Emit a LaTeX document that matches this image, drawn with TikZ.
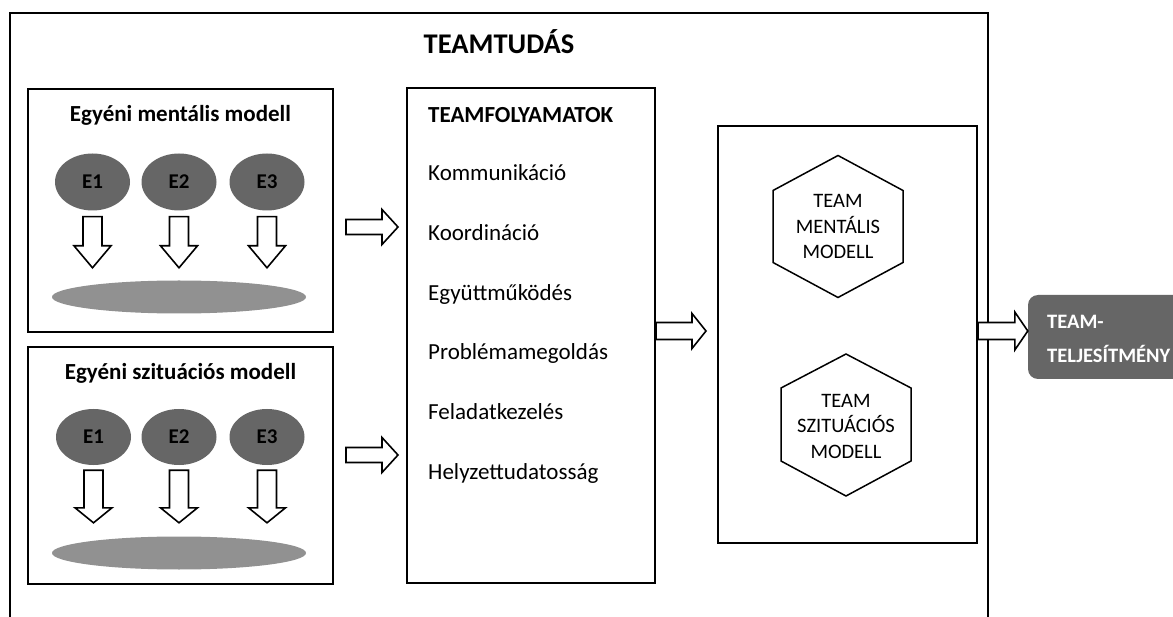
\documentclass[tikz,border=0pt]{standalone}
\usepackage{fontspec}
\setmainfont{Carlito}
\usetikzlibrary{calc,shapes.geometric}
\definecolor{egray}{HTML}{666666}
\definecolor{fgray}{HTML}{919191}
\definecolor{tgray}{HTML}{666666}
\newcommand\hollowH[5]{%
  \draw[arw] let \p1=(#1), \p2=(#2) in
    (\x1,\y1+#3pt) -- (\x2-#5pt,\y1+#3pt) -- (\x2-#5pt,\y1+#4pt) -- (\x2,\y1)
    -- (\x2-#5pt,\y1-#4pt) -- (\x2-#5pt,\y1-#3pt) -- (\x1,\y1-#3pt) -- cycle;}
\newcommand\hollowV[5]{%
  \draw[arw] let \p1=(#1), \p2=(#2) in
    (\x1-#3pt,\y1) -- (\x1+#3pt,\y1) -- (\x1+#3pt,\y2+#5pt) -- (\x1+#4pt,\y2+#5pt)
    -- (\x1,\y2) -- (\x1-#4pt,\y2+#5pt) -- (\x1-#3pt,\y2+#5pt) -- cycle;}
\begin{document}
\begin{tikzpicture}[x=1pt,y=-1pt,
  frame/.style={draw=black, line width=2pt},
  panel/.style={draw=black, line width=2pt, inner sep=0pt},
  ell/.style={ellipse, fill=egray, inner sep=0pt, minimum width=75pt, minimum height=57pt,
    font=\bfseries\fontsize{21}{25}\selectfont},
  flat/.style={ellipse, fill=fgray, inner sep=0pt, minimum width=254pt, minimum height=33pt},
  arw/.style={draw=black, fill=white, line width=1.6pt, line join=miter},
  hexline/.style={draw=black, line width=1.5pt, line join=miter},
  hextext/.style={inner sep=0pt, align=center, font=\fontsize{20.5}{25.5}\selectfont},
  item/.style={anchor=base west, inner sep=0pt, font=\fontsize{23}{28}\selectfont},
  ttl/.style={anchor=base, inner sep=0pt, font=\bfseries\fontsize{23}{28}\selectfont}]
\useasboundingbox (0,0) rectangle (1173,617);
\fill[white] (0,0) rectangle (1173,617);

% outer frame
\draw[frame] (10,630) -- (10,13) -- (988,13) -- (988,630);
\node[anchor=base, inner sep=0pt, font=\bfseries\fontsize{28.5}{34}\selectfont] (tudas) at (499,54) {TEAMTUDÁS};

% individual mental model
\node[panel, minimum width=305pt, minimum height=243pt] (m1) at (180.5,210.5) {};
\node[ttl] (m1t) at (180.5,122) {Egyéni mentális modell};
\node[ell] (e11) at (92.5,182) {E1};
\node[ell] (e12) at (179,182) {E2};
\node[ell] (e13) at (267,182) {E3};
\node[flat] (f1) at (179,297) {};
\foreach \e in {e11,e12,e13}{
  \coordinate (s\e) at ($(\e.south)+(0,6)$);
  \coordinate (t\e) at ($(\e.south |- f1.north)+(0,-12.5)$);
  \hollowV{s\e}{t\e}{9.5}{18.5}{22}
}

% individual situation model
\node[panel, minimum width=305pt, minimum height=237pt] (m2) at (180.5,465.5) {};
\node[ttl] (m2t) at (180.5,380) {Egyéni szituációs modell};
\node[ell, minimum height=56pt] (e21) at (93.5,437) {E1};
\node[ell, minimum height=56pt] (e22) at (179,437) {E2};
\node[ell, minimum height=56pt] (e23) at (267,437) {E3};
\node[flat] (f2) at (179,553) {};
\foreach \e in {e21,e22,e23}{
  \coordinate (s\e) at ($(\e.south)+(0,5)$);
  \coordinate (t\e) at ($(\e.south |- f2.north)+(0,-13.5)$);
  \hollowV{s\e}{t\e}{9.5}{18.5}{15}
}

% team processes
\node[panel, minimum width=248pt, minimum height=495pt] (tf) at (531,335.5) {};
\node[anchor=base west, inner sep=0pt, font=\bfseries\fontsize{23}{28}\selectfont] (tft) at (428,122.4) {TEAMFOLYAMATOK};
\node[item] (p1) at (428,181) {Kommunikáció};
\node[item] (p2) at (428,240.6) {Koordináció};
\node[item] (p3) at (428,300.2) {Együttműködés};
\node[item] (p4) at (428,359.8) {Problémamegoldás};
\node[item] (p5) at (428,419.4) {Feladatkezelés};
\node[item] (p6) at (428,479) {Helyzettudatosság};

% arrows into team processes
\coordinate (a1s) at ($(m1.east)+(12,16.5)$);
\coordinate (a1t) at ($(tf.west |- a1s)+(-8,0)$);
\hollowH{a1s}{a1t}{7.5}{17.5}{16}
\coordinate (a2s) at ($(m2.east)+(12,-10.5)$);
\coordinate (a2t) at ($(tf.west |- a2s)+(-8,0)$);
\hollowH{a2s}{a2t}{7.5}{17.5}{16}

% team models box
\node[panel, minimum width=259pt, minimum height=417pt] (tm) at (847.5,334.5) {};
\node[hextext] (h1) at (838,226.5) {TEAM\\MENTÁLIS\\MODELL};
\draw[hexline] ($(h1)+(0,-71)$) -- ($(h1)+(65,-36)$) -- ($(h1)+(65,36)$) -- ($(h1)+(0,71)$)
  -- ($(h1)+(-65,36)$) -- ($(h1)+(-65,-36)$) -- cycle;
\node[hextext] (h2) at (846,426) {TEAM\\SZITUÁCIÓS\\MODELL};
\draw[hexline] ($(h2)+(0,-72)$) -- ($(h2)+(65,-38)$) -- ($(h2)+(65,35)$) -- ($(h2)+(0,70)$)
  -- ($(h2)+(-65,35)$) -- ($(h2)+(-65,-38)$) -- cycle;

% middle arrow
\coordinate (a3s) at ($(tf.east)+(0,-4.5)$);
\coordinate (a3t) at ($(tm.west |- a3s)+(-11,0)$);
\hollowH{a3s}{a3t}{8.5}{17.5}{14}

% team performance
\node[fill=tgray, rounded corners=10pt, minimum width=157pt, minimum height=84pt, inner sep=0pt] (perf) at (1106.5,337) {};
\node[anchor=base west, inner sep=0pt, text=white, font=\bfseries\fontsize{20.5}{25}\selectfont] (perf1) at (1047,329) {TEAM-};
\node[anchor=base west, inner sep=0pt, text=white, font=\bfseries\fontsize{20.5}{25}\selectfont] (perf2) at (1047,363) {TELJESÍTMÉNY};

% final arrow
\coordinate (a4s) at ($(tm.east)+(0,-3.5)$);
\coordinate (a4t) at (perf.west |- a4s);
\hollowH{a4s}{a4t}{8.5}{19}{13}
\end{tikzpicture}
\end{document}
